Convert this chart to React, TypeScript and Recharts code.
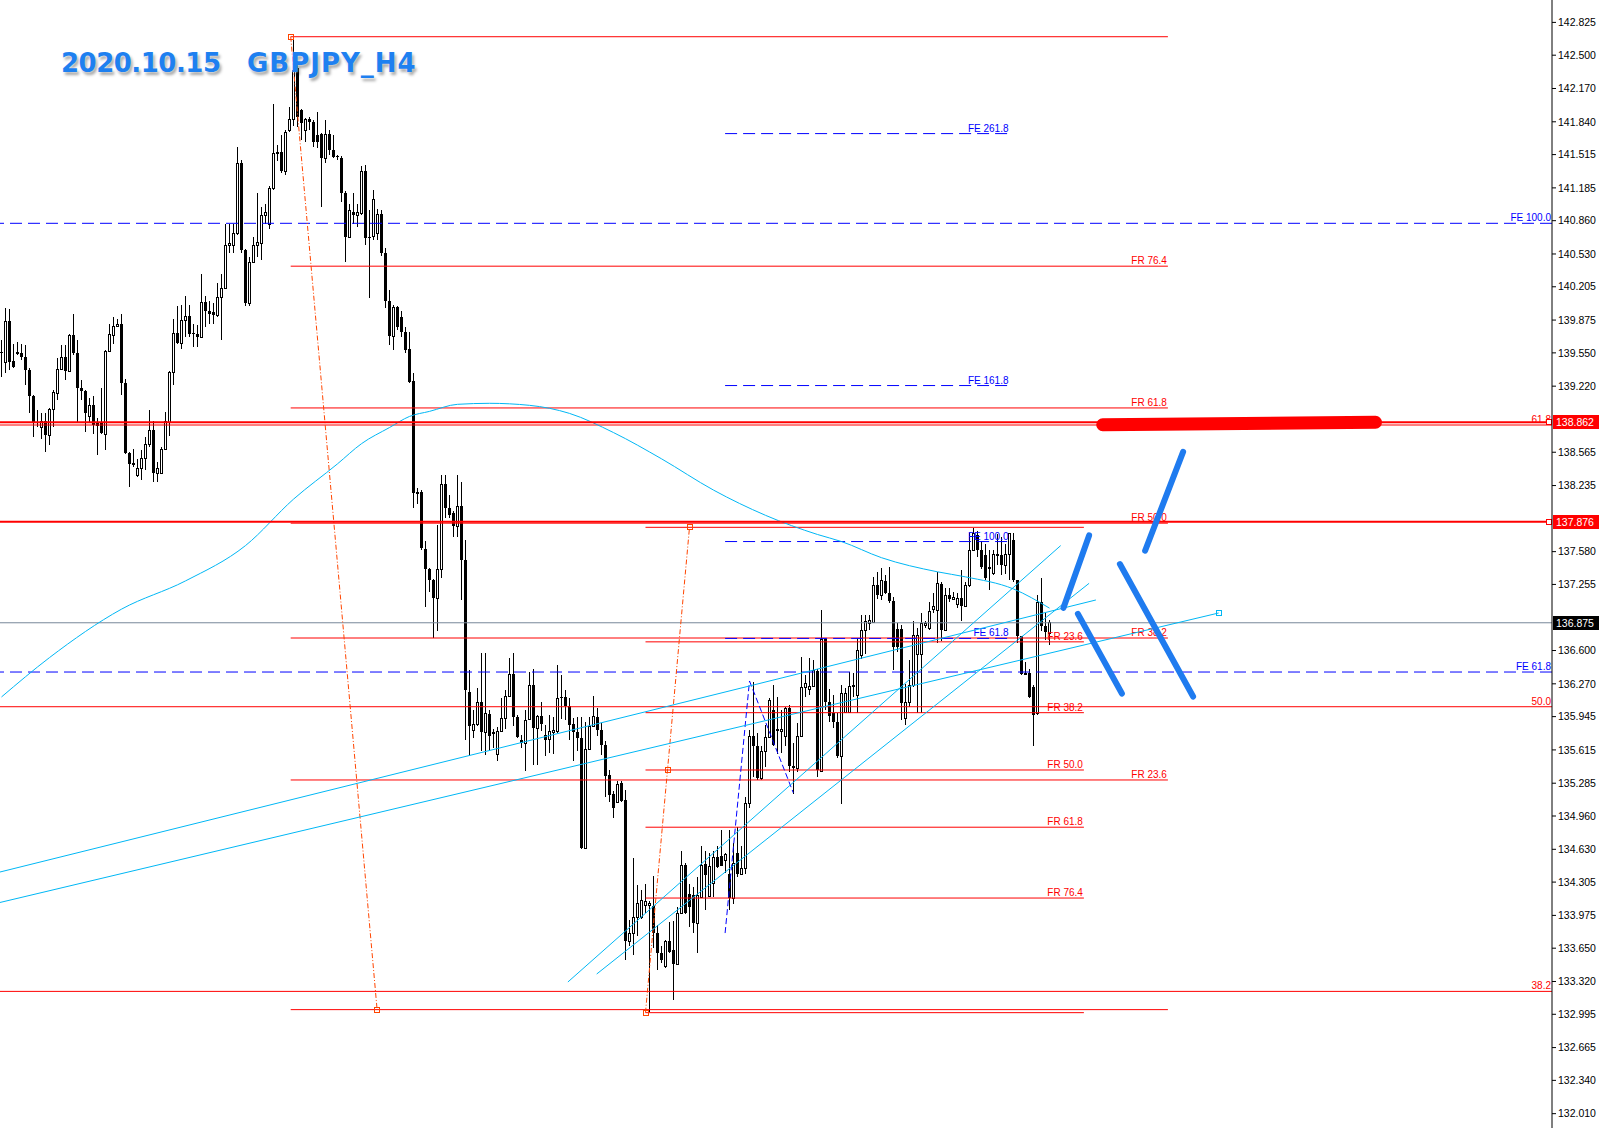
import React from 'react'
import { ComposedChart, Bar, Line, XAxis, YAxis, ReferenceLine, ReferenceDot } from 'recharts'

// GBPJPY H4 bars, oldest first: [open, high, low, close]
const candles: [number, number, number, number][] = [
  [139.56, 139.68, 139.31, 139.55], [139.46, 139.99, 139.35, 139.87], [139.87, 139.98, 139.38, 139.46], [139.47, 139.64, 139.40, 139.41],
  [139.55, 139.66, 139.53, 139.56], [139.55, 139.64, 139.48, 139.51], [139.51, 139.63, 139.23, 139.38], [139.38, 139.40, 138.95, 139.12],
  [139.12, 139.13, 138.72, 138.85], [138.86, 138.98, 138.82, 138.85], [138.82, 138.95, 138.70, 138.87], [138.87, 138.95, 138.57, 138.74],
  [138.74, 139.00, 138.64, 138.99], [138.99, 139.18, 138.82, 139.16], [139.15, 139.50, 139.08, 139.39], [139.39, 139.63, 139.38, 139.51],
  [139.51, 139.63, 139.28, 139.37], [139.37, 139.74, 139.36, 139.73], [139.73, 139.94, 139.53, 139.55], [139.55, 139.68, 138.85, 139.20],
  [139.20, 139.28, 139.08, 139.17], [139.17, 139.18, 138.77, 138.95], [138.92, 139.10, 138.85, 139.03], [139.03, 139.12, 138.75, 138.84],
  [138.85, 138.90, 138.54, 138.83], [138.85, 139.20, 138.75, 138.76], [138.75, 139.58, 138.59, 139.57], [139.57, 139.84, 139.56, 139.74],
  [139.73, 139.91, 139.64, 139.82], [139.82, 139.89, 139.81, 139.84], [139.84, 139.94, 139.13, 139.25], [139.25, 139.29, 138.55, 138.56],
  [138.56, 138.57, 138.22, 138.45], [138.45, 138.60, 138.42, 138.46], [138.34, 138.50, 138.32, 138.41], [138.41, 138.59, 138.29, 138.51],
  [138.51, 138.72, 138.39, 138.65], [138.65, 138.98, 138.62, 138.79], [138.79, 138.87, 138.27, 138.36], [138.36, 138.47, 138.27, 138.41],
  [138.36, 138.62, 138.35, 138.60], [138.60, 138.96, 138.59, 138.87], [138.86, 139.37, 138.73, 139.36], [139.36, 139.89, 139.23, 139.75],
  [139.75, 140.01, 139.64, 139.65], [139.65, 140.02, 139.59, 139.88], [139.88, 140.11, 139.71, 139.92], [139.92, 140.02, 139.71, 139.74],
  [139.75, 139.84, 139.61, 139.74], [139.74, 139.83, 139.61, 139.71], [139.71, 140.33, 139.70, 140.05], [140.05, 140.11, 139.81, 139.96],
  [139.96, 140.06, 139.84, 139.94], [139.95, 140.04, 139.84, 139.93], [139.93, 140.24, 139.91, 140.10], [140.10, 140.33, 139.68, 140.19],
  [140.19, 140.83, 140.18, 140.62], [140.62, 140.83, 140.54, 140.64], [140.62, 140.83, 140.54, 140.74], [140.74, 141.59, 140.72, 141.43],
  [141.43, 141.46, 140.54, 140.57], [140.57, 140.58, 140.01, 140.04], [140.04, 140.50, 140.01, 140.45], [140.45, 140.70, 140.44, 140.62],
  [140.62, 141.13, 140.50, 140.65], [140.64, 141.00, 140.47, 140.92], [140.92, 141.03, 140.83, 140.95], [140.83, 141.20, 140.78, 141.18],
  [141.18, 142.02, 141.16, 141.53], [141.53, 141.61, 141.45, 141.54], [141.54, 141.71, 141.33, 141.35], [141.35, 141.76, 141.31, 141.74],
  [141.76, 141.99, 141.74, 141.87], [141.87, 142.68, 141.80, 142.35], [142.37, 142.40, 141.79, 141.89], [141.96, 141.97, 141.66, 141.83],
  [141.76, 141.88, 141.64, 141.87], [141.87, 141.89, 141.76, 141.84], [141.84, 141.86, 141.59, 141.64], [141.71, 141.94, 141.58, 141.64],
  [141.72, 141.73, 141.00, 141.48], [141.48, 141.86, 141.43, 141.72], [141.72, 141.76, 141.51, 141.56], [141.56, 141.71, 141.48, 141.49],
  [141.50, 141.51, 141.46, 141.49], [141.48, 141.50, 141.05, 141.13], [141.13, 141.15, 140.45, 140.70], [140.70, 141.03, 140.69, 140.97],
  [140.95, 141.13, 140.83, 140.92], [140.92, 141.03, 140.80, 140.95], [140.94, 141.40, 140.92, 141.35], [141.35, 141.41, 140.62, 140.69],
  [140.70, 140.97, 140.09, 140.69], [140.71, 141.16, 140.67, 141.07], [140.74, 140.98, 140.67, 140.93], [140.93, 140.97, 140.51, 140.54],
  [140.54, 140.59, 139.99, 140.06], [140.06, 140.17, 139.63, 139.72], [139.72, 140.02, 139.58, 140.00], [140.00, 140.01, 139.78, 139.81],
  [139.91, 139.96, 139.71, 139.76], [139.76, 139.81, 139.55, 139.58], [139.59, 139.76, 139.25, 139.26], [139.27, 139.35, 138.01, 138.16],
  [138.17, 138.21, 138.05, 138.15], [138.17, 138.19, 137.60, 137.62], [137.61, 137.69, 137.03, 137.41], [137.41, 137.42, 137.18, 137.30],
  [137.30, 137.31, 136.72, 137.12], [137.12, 137.84, 136.79, 137.41], [137.41, 138.34, 137.32, 138.25], [138.25, 138.34, 137.91, 138.01],
  [138.01, 138.14, 137.91, 137.94], [137.96, 137.98, 137.73, 137.83], [137.83, 138.34, 137.73, 138.03], [138.03, 138.27, 137.10, 137.50],
  [137.50, 137.70, 135.71, 136.21], [136.19, 136.41, 135.55, 135.85], [135.81, 136.01, 135.73, 135.87], [135.87, 136.23, 135.85, 136.09],
  [136.09, 136.58, 135.60, 135.79], [135.79, 136.58, 135.56, 135.98], [135.97, 136.01, 135.60, 135.75], [135.78, 135.82, 135.63, 135.79],
  [135.57, 135.84, 135.51, 135.80], [135.80, 136.13, 135.79, 135.93], [135.93, 136.21, 135.82, 136.15], [136.15, 136.53, 136.14, 136.37],
  [136.37, 136.58, 135.85, 135.94], [135.94, 135.96, 135.73, 135.74], [135.71, 135.76, 135.63, 135.68], [135.68, 136.01, 135.41, 135.91],
  [135.92, 136.39, 135.91, 136.26], [136.26, 136.42, 135.47, 135.83], [135.83, 135.96, 135.47, 135.95], [135.95, 136.09, 135.80, 135.87],
  [135.76, 135.86, 135.55, 135.71], [135.72, 135.96, 135.58, 135.80], [135.79, 135.94, 135.57, 135.81], [135.80, 136.46, 135.78, 136.13],
  [136.14, 136.36, 135.92, 136.13], [136.14, 136.21, 135.91, 136.05], [136.05, 136.13, 135.71, 135.86], [135.87, 135.93, 135.51, 135.79],
  [135.79, 135.94, 135.60, 135.73], [135.73, 135.94, 134.63, 134.64], [134.64, 135.89, 134.63, 135.62], [135.62, 135.94, 135.61, 135.85],
  [135.85, 136.15, 135.84, 135.95], [135.94, 136.03, 135.75, 135.81], [135.81, 135.88, 135.56, 135.66], [135.66, 135.70, 135.15, 135.36],
  [135.37, 135.42, 135.10, 135.17], [135.18, 135.21, 134.94, 135.04], [135.10, 135.31, 135.09, 135.28], [135.29, 135.31, 135.10, 135.11],
  [135.12, 135.22, 133.53, 133.72], [133.72, 133.93, 133.67, 133.80], [133.80, 134.54, 133.58, 133.96], [133.96, 134.28, 133.77, 134.10],
  [133.96, 134.23, 133.94, 134.13], [134.08, 134.29, 134.00, 134.12], [134.08, 134.12, 133.02, 134.10], [134.07, 134.37, 133.65, 133.80],
  [133.80, 133.88, 133.43, 133.60], [133.60, 133.67, 133.50, 133.53], [133.47, 133.73, 133.45, 133.72], [133.72, 133.91, 133.60, 133.61],
  [133.63, 133.92, 133.14, 133.49], [133.49, 134.06, 133.48, 134.00], [134.00, 134.61, 133.99, 134.47], [134.47, 134.49, 133.99, 134.00],
  [134.19, 134.29, 133.86, 134.06], [134.18, 134.26, 133.80, 133.90], [133.90, 134.36, 133.60, 134.18], [134.16, 134.66, 134.15, 134.47],
  [134.48, 134.61, 134.03, 134.38], [134.17, 134.59, 134.16, 134.46], [134.30, 134.61, 134.16, 134.55], [134.55, 134.66, 134.44, 134.45],
  [134.56, 134.82, 134.46, 134.46], [134.52, 134.59, 134.40, 134.58], [134.39, 134.82, 134.03, 134.15], [134.15, 134.69, 134.09, 134.49],
  [134.59, 134.85, 134.36, 134.39], [134.39, 134.66, 134.38, 134.44], [134.44, 135.15, 134.39, 135.09], [135.09, 135.81, 135.04, 135.75],
  [135.75, 136.29, 135.35, 135.65], [135.65, 135.78, 135.32, 135.34], [135.34, 135.65, 135.32, 135.60], [135.60, 135.86, 135.45, 135.74],
  [135.74, 136.13, 135.73, 136.11], [136.01, 136.26, 135.65, 135.66], [135.82, 136.14, 135.57, 135.80], [135.80, 136.01, 135.58, 135.82],
  [135.75, 136.04, 135.65, 136.03], [136.03, 136.06, 135.40, 135.46], [135.46, 135.68, 135.18, 135.44], [135.44, 135.88, 135.40, 135.75],
  [135.75, 136.54, 135.74, 136.24], [136.24, 136.36, 136.14, 136.28], [136.22, 136.53, 136.16, 136.25], [136.25, 136.51, 136.24, 136.41],
  [136.40, 136.42, 135.35, 135.42], [135.41, 137.00, 135.40, 136.71], [136.71, 136.72, 136.01, 136.09], [136.09, 136.22, 135.89, 135.95],
  [135.98, 136.16, 135.83, 135.89], [135.89, 135.98, 135.53, 135.55], [135.55, 136.26, 135.08, 136.18], [135.99, 136.23, 135.98, 136.18],
  [135.99, 136.39, 135.98, 136.25], [136.25, 136.38, 136.14, 136.26], [136.16, 136.72, 135.98, 136.61], [136.56, 136.95, 136.52, 136.80],
  [136.80, 136.95, 136.57, 136.89], [136.87, 136.95, 136.80, 136.90], [136.88, 137.33, 136.87, 137.25], [137.25, 137.38, 137.11, 137.15],
  [137.15, 137.42, 137.10, 137.30], [137.29, 137.35, 137.16, 137.17], [137.17, 137.43, 137.07, 137.09], [137.09, 137.13, 136.41, 136.63],
  [136.81, 136.87, 136.59, 136.63], [136.81, 136.85, 135.91, 136.08], [135.93, 136.27, 135.86, 136.09], [136.09, 136.51, 136.04, 136.26],
  [136.26, 136.89, 136.24, 136.75], [136.57, 136.82, 135.98, 136.75], [136.57, 136.97, 135.98, 136.87], [136.85, 136.89, 136.82, 136.87],
  [136.82, 137.08, 136.80, 136.99], [137.01, 137.17, 136.97, 137.04], [137.00, 137.38, 136.67, 137.27], [137.26, 137.28, 136.69, 136.80],
  [136.80, 137.22, 136.79, 137.15], [137.15, 137.22, 137.08, 137.11], [137.11, 137.18, 137.10, 137.13], [137.06, 137.17, 137.02, 137.12],
  [137.12, 137.40, 136.89, 137.04], [137.04, 137.28, 137.03, 137.25], [137.25, 137.76, 137.23, 137.60], [137.60, 137.81, 137.59, 137.76],
  [137.74, 137.78, 137.53, 137.60], [137.60, 137.69, 137.41, 137.43], [137.55, 137.66, 137.30, 137.32], [137.42, 137.60, 137.20, 137.43],
  [137.37, 137.60, 137.35, 137.56], [137.56, 137.75, 137.45, 137.54], [137.55, 137.73, 137.35, 137.45], [137.45, 137.66, 137.36, 137.56],
  [137.56, 137.76, 137.30, 137.76], [137.70, 137.76, 137.28, 137.30], [137.30, 137.30, 136.67, 136.74], [136.74, 136.74, 136.36, 136.37],
  [136.37, 136.49, 136.36, 136.38], [136.38, 136.42, 136.13, 136.14], [136.24, 136.26, 135.65, 135.96], [135.98, 137.15, 135.96, 137.08],
  [137.08, 137.32, 136.79, 136.84], [136.84, 136.97, 136.70, 136.78], [136.77, 136.90, 136.65, 136.88],
]

// moving average, read at a few bars
const maBars = [0, 12, 30, 46, 61, 73, 84, 90, 97, 102, 107, 114, 122, 132, 142, 153, 165, 178, 191, 204, 210, 220, 234, 241, 253, 262]
const maValues = [136.14, 136.53, 137.01, 137.29, 137.64, 138.10, 138.45, 138.65, 138.81, 138.92, 138.97, 139.04, 139.05, 139.03, 138.95, 138.76, 138.50, 138.19, 137.94, 137.75, 137.68, 137.52, 137.38, 137.33, 137.21, 137.02]

const yTicks = [142.825, 142.5, 142.17, 141.84, 141.515, 141.185, 140.86, 140.53, 140.205, 139.875, 139.55, 139.22, 138.565, 138.235, 137.58, 137.255, 136.6, 136.27, 135.945, 135.615, 135.285, 134.96, 134.63, 134.305, 133.975, 133.65, 133.32, 132.995, 132.665, 132.34, 132.01]

// retracement from the October high, and the later one from the low
const fibo1Span = [72.3, 291.6]
const fibo1Levels = [142.683, 140.409, 139.004, 137.862, 136.724, 135.317, 133.041]
const fibo1Names = ['', 'FR  76.4', 'FR 61.8', 'FR 50.0', 'FR 38.2', 'FR 23.6', '']
const fibo2Span = [161, 270.6]
const fibo2Levels = [137.821, 136.686, 135.984, 135.416, 134.849, 134.147, 133.011]
const fibo2Names = ['', 'FR 23.6', 'FR 38.2', 'FR 50.0', 'FR 61.8', 'FR  76.4', '']

// expansion levels (short) and the long ones
const feSpan = [180.9, 252]
const feLevels = [141.723, 139.226, 137.68, 136.72]
const feNames = ['FE 261.8', 'FE 161.8', 'FE 100.0', 'FE 61.8']
const feLongLevels = [140.834, 136.387]
const feLongNames = ['FE 100.0', 'FE 61.8']
const frLongLevels = [138.835, 136.043, 133.222]
const frLongNames = ['61.8', '50.0', '38.2']

const supportLevels = [138.862, 137.876]
const bid = 136.875

// trend lines [[bar, price], [bar, price]]
const trendLines = [
  [[-0.375, 134.405], [273.6, 137.101]],
  [[-0.375, 134.103], [304.3, 136.972]],
  [[141.6, 133.315], [264.8, 137.64]],
  [[148.8, 133.394], [271.9, 137.266]],
]
const fiboLinks = [
  [[72.3, 142.683], [93.9, 133.041]],
  [[161, 133.011], [172, 137.821]],
]
const fiboMarks = [[72.3, 142.683], [93.9, 133.041], [161, 133.011], [172, 137.821], [166.5, 135.416]]
const zigzag = [[180.9, 133.8], [187, 136.298], [197.95, 135.19]]

// hand-drawn scenario strokes
const blueStrokes = [
  [[265.5, 137.023], [271.9, 137.741]],
  [[269.1, 136.963], [280.1, 136.174]],
  [[279.6, 137.457], [297.9, 136.144]],
  [[285.9, 137.589], [295.4, 138.569]],
]
const redStroke = [[275.3, 138.838], [343.5, 138.862]]

const RED = '#ff0000'
const BLUE = '#0000ff'
const CYAN = '#00b7f5'
const ORANGE = '#ff4500'
const FONT = '"Liberation Sans", Arial, sans-serif'

const rows = candles.map(([o, h, l, c], i) => ({ i, o, h, l, c }))
const maData = maBars.map((i, k) => ({ i, ma: maValues[k] }))

const Candle = (props: any) => {
  const { x, y, width, height, payload } = props
  if (!payload) return null
  const { o, h, l, c } = payload
  const top = Math.min(y, y + height)
  const span = Math.abs(height)
  const k = h > l ? span / (h - l) : 0
  const cx = Math.floor(x + width / 2) + 0.5
  const bTop = Math.round(top + (h - Math.max(o, c)) * k)
  const bBot = Math.round(top + (h - Math.min(o, c)) * k)
  const bh = Math.max(bBot - bTop, 1)
  return (
    <g>
      <line x1={cx} x2={cx} y1={Math.round(top)} y2={Math.round(top + span)} stroke="#000" strokeWidth={1} />
      {c >= o ? (
        <rect x={cx - 1} y={bTop + 0.5} width={2} height={bh} fill="#fff" stroke="#000" strokeWidth={1} />
      ) : (
        <rect x={cx - 1.5} y={bTop} width={3} height={bh} fill="#000" />
      )}
    </g>
  )
}

const levelLabel = (text: string, color: string) => (props: any) => {
  const vb = props.viewBox || props
  if (!text) return null
  return (
    <text x={vb.x + vb.width - 1} y={vb.y - 2} textAnchor="end" fill={color} fontSize={10} fontFamily={FONT}>
      {text}
    </text>
  )
}

const priceBox = (text: string, bg: string, marker: boolean) => (props: any) => {
  const vb = props.viewBox || props
  const x = vb.x + vb.width
  const y = Math.round(vb.y)
  return (
    <g>
      {marker && <rect x={x - 5.5} y={y - 2.5} width={5} height={5} fill="#fff" stroke={bg} strokeWidth={1} />}
      <rect x={x + 1} y={y - 7} width={46} height={14} fill={bg} />
      <text x={x + 4} y={y + 4} fill="#fff" fontSize={10.5} fontFamily={FONT}>
        {text}
      </text>
    </g>
  )
}

const square = (color: string) => (props: any) => (
  <rect x={Math.round(props.cx) - 2.5} y={Math.round(props.cy) - 2.5} width={5} height={5} fill="none" stroke={color} strokeWidth={1} />
)

const seg = (p: number[][]) => [{ x: p[0][0], y: p[0][1] }, { x: p[1][0], y: p[1][1] }] as any

export default function App() {
  return (
    <div style={{ position: 'absolute', left: 0, top: 0, width: 1599, height: 1128, background: '#fff' }}>
      <ComposedChart width={1599} height={1128} data={rows} margin={{ top: 0, right: 0, bottom: 0, left: 0 }}>
        <XAxis dataKey="i" type="number" domain={[-0.375, 387.625]} allowDataOverflow hide />
        <YAxis
          orientation="right"
          type="number"
          domain={[131.868, 143.047]}
          allowDataOverflow
          ticks={yTicks}
          interval={0}
          width={47}
          tickSize={4}
          tickMargin={2}
          axisLine={{ stroke: '#000' }}
          tickLine={{ stroke: '#000' }}
          tick={{ fontSize: 10.5, fill: '#000', fontFamily: FONT }}
          tickFormatter={(v: number) => v.toFixed(3)}
        />

        {/* long horizontal levels */}
        {feLongLevels.map((p, k) => (
          <ReferenceLine key={'fel' + k} y={p} stroke={BLUE} strokeDasharray="12 6" label={levelLabel(feLongNames[k], BLUE)} />
        ))}
        {frLongLevels.map((p, k) => (
          <ReferenceLine key={'frl' + k} y={p} stroke={RED} label={levelLabel(frLongNames[k], RED)} />
        ))}
        <ReferenceLine y={bid} stroke="#778899" label={priceBox(bid.toFixed(3), '#000', false)} />

        {/* fibo retracements */}
        {fibo1Levels.map((p, k) => (
          <ReferenceLine key={'f1' + k} segment={seg([[fibo1Span[0], p], [fibo1Span[1], p]])} ifOverflow="visible" stroke={RED} label={levelLabel(fibo1Names[k], RED)} />
        ))}
        {fibo2Levels.map((p, k) => (
          <ReferenceLine key={'f2' + k} segment={seg([[fibo2Span[0], p], [fibo2Span[1], p]])} ifOverflow="visible" stroke={RED} label={levelLabel(fibo2Names[k], RED)} />
        ))}
        {feLevels.map((p, k) => (
          <ReferenceLine key={'fe' + k} segment={seg([[feSpan[0], p], [feSpan[1], p]])} ifOverflow="visible" stroke={BLUE} strokeDasharray="12 6" label={levelLabel(feNames[k], BLUE)} />
        ))}
        {fiboLinks.map((l, k) => (
          <ReferenceLine key={'fl' + k} segment={seg(l)} ifOverflow="visible" stroke={ORANGE} strokeDasharray="5 2 1 2" />
        ))}
        {fiboMarks.map((m, k) => (
          <ReferenceDot key={'fm' + k} x={m[0]} y={m[1]} r={3} ifOverflow="visible" shape={square(ORANGE)} />
        ))}
        <ReferenceLine segment={seg([zigzag[0], zigzag[1]])} ifOverflow="visible" stroke={BLUE} strokeDasharray="6 3" />
        <ReferenceLine segment={seg([zigzag[1], zigzag[2]])} ifOverflow="visible" stroke={BLUE} strokeDasharray="6 3" />

        <Bar dataKey={(d: any) => [d.l, d.h]} barSize={3} shape={<Candle />} isAnimationActive={false} />

        <Line data={maData} dataKey="ma" type="monotone" stroke={CYAN} strokeWidth={1} dot={false} activeDot={false} legendType="none" isAnimationActive={false} />
        {trendLines.map((l, k) => (
          <ReferenceLine key={'tl' + k} segment={seg(l)} ifOverflow="visible" stroke={CYAN} strokeWidth={1} />
        ))}
        <ReferenceDot x={trendLines[1][1][0]} y={trendLines[1][1][1]} r={3} ifOverflow="visible" shape={square(CYAN)} />

        {/* support lines with price boxes */}
        {supportLevels.map((p, k) => (
          <ReferenceLine key={'sl' + k} y={p} stroke={RED} strokeWidth={2} label={priceBox(p.toFixed(3), RED, true)} />
        ))}

        {/* scenario strokes */}
        <ReferenceLine segment={seg(redStroke)} ifOverflow="visible" stroke={RED} strokeWidth={13} strokeLinecap="round" />
        {blueStrokes.map((l, k) => (
          <ReferenceLine key={'bs' + k} segment={seg(l)} ifOverflow="visible" stroke="#1f7bef" strokeWidth={6} strokeLinecap="round" />
        ))}
      </ComposedChart>
      <div
        style={{
          position: 'absolute',
          left: 61,
          top: 50,
          lineHeight: '26px',
          fontSize: 26,
          fontWeight: 'bold',
          fontFamily: '"DejaVu Sans", Verdana, sans-serif',
          color: '#1e80f0',
          whiteSpace: 'pre',
          textShadow: '0 0 2px #fff, 2px 3px 3px rgba(0,0,0,0.35)',
        }}
      >
        <span style={{ letterSpacing: -0.5 }}>2020.10.15</span>
        <span style={{ position: 'absolute', left: 186, letterSpacing: 1 }}>GBPJPY_H4</span>
      </div>
    </div>
  )
}
